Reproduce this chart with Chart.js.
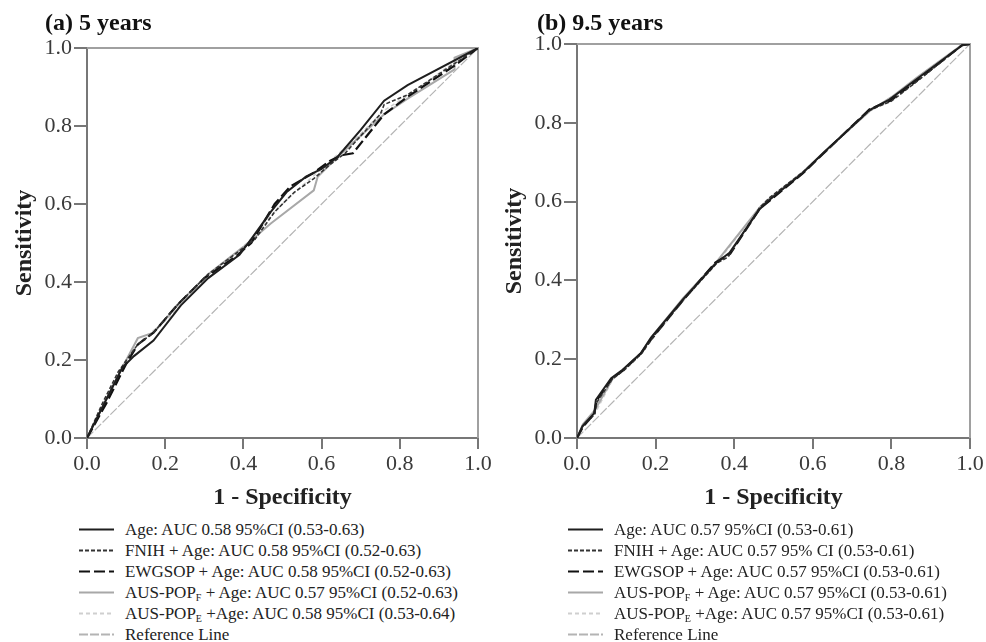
<!DOCTYPE html>
<html>
<head>
<meta charset="utf-8">
<script src="https://cdn.jsdelivr.net/npm/chart.js@4.4.0/dist/chart.umd.min.js"></script>
<style>
  body { margin: 0; background: #fff; width: 986px; height: 642px; position: relative; overflow: hidden; font-family: "Liberation Serif", "Times New Roman", serif; }
  .panel { position: absolute; top: 0; }
  .ptitle { position: absolute; top: 9px; font-weight: bold; font-size: 24px; color: #111; }
  .legend { position: absolute; top: 519px; font-size: 17px; color: #222; }
  .row { height: 21px; line-height: 21px; white-space: nowrap; position: relative; }
  .row svg { position: absolute; left: 0; top: 0; }
  .row span { position: absolute; left: 46px; top: 0; }
  sub { font-size: 10px; vertical-align: -3px; line-height: 0; }
</style>
</head>
<body>
<div class="panel" style="left:0;width:500px;height:512px"><canvas id="chartA" width="500" height="512"></canvas></div>
<div class="panel" style="left:490px;width:496px;height:512px"><canvas id="chartB" width="496" height="512"></canvas></div>
<div class="ptitle" style="left:45px">(a) 5 years</div>
<div class="ptitle" style="left:537px">(b) 9.5 years</div>
<div class="legend" id="legendA" style="left:79px"></div>
<div class="legend" id="legendB" style="left:568px"></div>
<script>
// axis ticks
const tickValues = [0, 0.2, 0.4, 0.6, 0.8, 1.0];

// (a) 5 years : 1 - specificity (x) and sensitivity (y)
const age5X   = [0, 0.04, 0.09, 0.12, 0.17, 0.24, 0.31, 0.39, 0.42, 0.47, 0.51, 0.56, 0.60, 0.64, 0.70, 0.76, 0.82, 1];
const age5Y   = [0, 0.08, 0.18, 0.21, 0.25, 0.34, 0.41, 0.47, 0.51, 0.58, 0.63, 0.67, 0.69, 0.72, 0.79, 0.865, 0.905, 1];
const fnih5X  = [0, 0.04, 0.08, 0.13, 0.17, 0.23, 0.31, 0.39, 0.43, 0.48, 0.53, 0.58, 0.62, 0.66, 0.75, 0.76, 0.82, 0.94, 1];
const fnih5Y  = [0, 0.09, 0.17, 0.24, 0.27, 0.34, 0.42, 0.48, 0.51, 0.58, 0.63, 0.665, 0.70, 0.73, 0.83, 0.855, 0.88, 0.96, 1];
const ewg5X   = [0, 0.05, 0.10, 0.13, 0.17, 0.23, 0.30, 0.38, 0.42, 0.48, 0.52, 0.58, 0.62, 0.65, 0.68, 0.76, 0.82, 0.94, 1];
const ewg5Y   = [0, 0.09, 0.19, 0.24, 0.27, 0.34, 0.41, 0.465, 0.50, 0.60, 0.645, 0.68, 0.71, 0.725, 0.73, 0.83, 0.875, 0.955, 1];
const ausF5X  = [0, 0.05, 0.09, 0.13, 0.17, 0.24, 0.31, 0.40, 0.47, 0.58, 0.59, 0.64, 0.76, 0.82, 0.94, 0.94, 1];
const ausF5Y  = [0, 0.10, 0.18, 0.256, 0.27, 0.35, 0.42, 0.49, 0.55, 0.635, 0.67, 0.72, 0.83, 0.87, 0.945, 0.975, 1];
const ausE5X  = [0, 0.05, 0.10, 0.14, 0.20, 0.26, 0.33, 0.41, 0.46, 0.52, 0.60, 0.70, 0.76, 0.84, 0.92, 1];
const ausE5Y  = [0, 0.10, 0.20, 0.25, 0.30, 0.36, 0.43, 0.50, 0.56, 0.62, 0.69, 0.78, 0.84, 0.89, 0.95, 1];

// (b) 9.5 years
const age95X  = [0, 0.014, 0.044, 0.048, 0.087, 0.116, 0.163, 0.188, 0.269, 0.354, 0.388, 0.464, 0.49, 0.575, 0.626, 0.745, 0.795, 0.863, 0.982, 1];
const age95Y  = [0, 0.03, 0.063, 0.097, 0.152, 0.173, 0.216, 0.254, 0.351, 0.444, 0.47, 0.58, 0.605, 0.673, 0.723, 0.833, 0.859, 0.91, 0.998, 1];
const fnih95X = [0, 0.015, 0.045, 0.05, 0.09, 0.12, 0.165, 0.19, 0.27, 0.355, 0.385, 0.40, 0.465, 0.49, 0.575, 0.63, 0.745, 0.80, 0.865, 0.98, 1];
const fnih95Y = [0, 0.03, 0.06, 0.09, 0.15, 0.172, 0.215, 0.252, 0.35, 0.443, 0.46, 0.485, 0.585, 0.61, 0.675, 0.725, 0.832, 0.855, 0.905, 0.997, 1];
const ewg95X  = [0, 0.015, 0.044, 0.05, 0.088, 0.118, 0.163, 0.19, 0.27, 0.352, 0.39, 0.465, 0.492, 0.575, 0.627, 0.744, 0.797, 0.862, 0.98, 1];
const ewg95Y  = [0, 0.028, 0.062, 0.095, 0.15, 0.172, 0.215, 0.252, 0.35, 0.445, 0.468, 0.582, 0.604, 0.672, 0.722, 0.834, 0.856, 0.905, 0.997, 1];
const ausF95X = [0, 0.015, 0.045, 0.09, 0.12, 0.165, 0.19, 0.27, 0.355, 0.465, 0.49, 0.575, 0.63, 0.745, 0.80, 0.865, 0.98, 1];
const ausF95Y = [0, 0.035, 0.07, 0.15, 0.175, 0.218, 0.257, 0.355, 0.447, 0.585, 0.608, 0.675, 0.727, 0.83, 0.865, 0.915, 0.998, 1];
const ausE95X = [0, 0.02, 0.05, 0.09, 0.125, 0.17, 0.20, 0.28, 0.36, 0.47, 0.50, 0.58, 0.64, 0.75, 0.81, 0.87, 0.98, 1];
const ausE95Y = [0, 0.035, 0.07, 0.148, 0.178, 0.222, 0.262, 0.36, 0.45, 0.59, 0.612, 0.678, 0.735, 0.835, 0.87, 0.918, 0.998, 1];

const refX = [0, 1];
const refY = [0, 1];

const labels5 = [
  'Age: AUC 0.58 95%CI (0.53-0.63)',
  'FNIH + Age: AUC 0.58 95%CI (0.52-0.63)',
  'EWGSOP + Age: AUC 0.58 95%CI (0.52-0.63)',
  'AUS-POP<sub>F</sub> + Age: AUC 0.57 95%CI (0.52-0.63)',
  'AUS-POP<sub>E</sub> +Age: AUC 0.58 95%CI (0.53-0.64)',
  'Reference Line'
];
const labels95 = [
  'Age: AUC 0.57 95%CI (0.53-0.61)',
  'FNIH + Age: AUC 0.57 95% CI (0.53-0.61)',
  'EWGSOP + Age: AUC 0.57 95%CI (0.53-0.61)',
  'AUS-POP<sub>F</sub> + Age: AUC 0.57 95%CI (0.53-0.61)',
  'AUS-POP<sub>E</sub> +Age: AUC 0.57 95%CI (0.53-0.61)',
  'Reference Line'
];

// line looks, same order as the labels
const looks = [
  { color: '#1e1e1e', width: 2,   dash: [] },
  { color: '#333333', width: 1.6, dash: [4, 2] },
  { color: '#111111', width: 2.2, dash: [11, 4] },
  { color: '#a8a8a8', width: 2,   dash: [] },
  { color: '#cfcfcf', width: 1.6, dash: [4, 3] },
  { color: '#b4b4b4', width: 1.2, dash: [9, 2] }
];

function pts(xs, ys) {
  return xs.map((x, i) => ({ x: x, y: ys[i] }));
}

const framePlugin = {
  id: 'frame',
  beforeDatasetsDraw(chart) {
    const a = chart.chartArea;
    const ctx = chart.ctx;
    ctx.save();
    ctx.strokeStyle = '#a0a0a0';
    ctx.lineWidth = 2;
    ctx.beginPath();
    ctx.moveTo(a.left, a.top);
    ctx.lineTo(a.right, a.top);
    ctx.lineTo(a.right, a.bottom);
    ctx.stroke();
    ctx.restore();
  }
};

function makeChart(id, series, padTop, padRight) {
  const datasets = series.map((s, i) => ({
    data: pts(s[0], s[1]),
    showLine: true,
    borderColor: looks[i].color,
    borderWidth: looks[i].width,
    borderDash: looks[i].dash,
    pointRadius: 0,
    fill: false,
    tension: 0
  }));
  const axisFont = { family: 'Liberation Serif', size: 22 };
  const titleFont = { family: 'Liberation Serif', size: 24, weight: 'bold' };
  return new Chart(document.getElementById(id), {
    type: 'scatter',
    data: { datasets: datasets },
    options: {
      responsive: false,
      animation: false,
      layout: { padding: { left: 0, top: padTop, right: padRight, bottom: 0 } },
      plugins: { legend: { display: false }, tooltip: { enabled: false } },
      scales: {
        x: {
          type: 'linear', min: 0, max: 1,
          afterBuildTicks: (sc) => { sc.ticks = tickValues.map(v => ({ value: v })); },
          afterFit: (sc) => { sc.height = 74; },
          ticks: { font: axisFont, color: '#3a3a3a', padding: 2, maxRotation: 0,
                   callback: (v) => v.toFixed(1) },
          grid: { drawOnChartArea: false, drawTicks: true, tickLength: 11, color: '#777', lineWidth: 2 },
          border: { display: true, color: '#777', width: 2 },
          title: { display: true, text: '1 - Specificity', font: titleFont, color: '#222',
                   padding: { top: 0, bottom: 0 } }
        },
        y: {
          type: 'linear', min: 0, max: 1,
          afterBuildTicks: (sc) => { sc.ticks = tickValues.map(v => ({ value: v })); },
          afterFit: (sc) => { sc.width = 87; },
          ticks: { font: axisFont, color: '#3a3a3a', padding: 2,
                   callback: (v) => v.toFixed(1) },
          grid: { drawOnChartArea: false, drawTicks: true, tickLength: 13, color: '#777', lineWidth: 2 },
          border: { display: true, color: '#777', width: 2 },
          title: { display: true, text: 'Sensitivity', font: titleFont, color: '#222',
                   padding: { top: 10, bottom: 0 } }
        }
      }
    },
    plugins: [framePlugin]
  });
}

function makeLegend(id, labels) {
  const box = document.getElementById(id);
  labels.forEach((txt, i) => {
    const lk = looks[i];
    const row = document.createElement('div');
    row.className = 'row';
    const dash = lk.dash.length ? lk.dash.join(',') : 'none';
    const w = i === 5 ? 1.8 : Math.max(lk.width, 2);
    row.innerHTML = '<svg width="35" height="21"><line x1="0" y1="10.5" x2="35" y2="10.5" stroke="' +
      lk.color + '" stroke-width="' + w + '" stroke-dasharray="' + dash + '"/></svg><span>' + txt + '</span>';
    box.appendChild(row);
  });
}

makeChart('chartA', [[age5X, age5Y], [fnih5X, fnih5Y], [ewg5X, ewg5Y], [ausF5X, ausF5Y], [ausE5X, ausE5Y], [refX, refY]], 48, 22);
makeChart('chartB', [[age95X, age95Y], [fnih95X, fnih95Y], [ewg95X, ewg95Y], [ausF95X, ausF95Y], [ausE95X, ausE95Y], [refX, refY]], 44, 16);
makeLegend('legendA', labels5);
makeLegend('legendB', labels95);
</script>
</body>
</html>
